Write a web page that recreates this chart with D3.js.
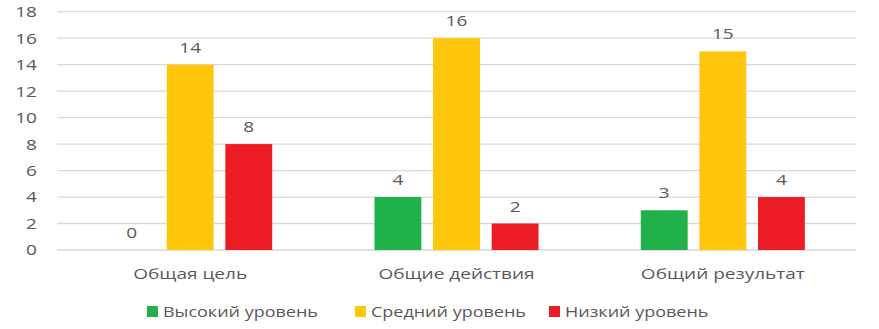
<!DOCTYPE html>
<html>
<head>
<meta charset="utf-8">
<script src="https://cdn.jsdelivr.net/npm/d3@7"></script>
<style>
  html, body { margin: 0; padding: 0; background: #fff; }
  svg text { font-family: "Open Sans", "DejaVu Sans", sans-serif; fill: #595959; }
</style>
</head>
<body>
<svg id="chart" width="879" height="329"></svg>
<script>
const categories = ["Общая цель", "Общие действия", "Общий результат"];
const seriesNames = ["Высокий уровень", "Средний уровень", "Низкий уровень"];
const highValues = [0, 4, 3];
const midValues = [14, 16, 15];
const lowValues = [8, 2, 4];
const seriesColors = ["#21B14B", "#FFC60B", "#EC1C24"];
const yTicks = [0, 2, 4, 6, 8, 10, 12, 14, 16, 18];

const series = [highValues, midValues, lowValues];

const svg = d3.select("#chart");
const plotLeft = 57, plotRight = 856, plotTop = 11.7, plotBottom = 250;
const SX = 1.27; // horizontal stretch of the reference text
const place = (x, yy, s = SX) => `translate(${x},${yy}) scale(${s},1)`;

const y = d3.scaleLinear().domain([0, 18]).range([plotBottom, plotTop]);
const x0 = d3.scaleBand().domain(categories).range([plotLeft, plotRight])
  .paddingInner(0.34).paddingOuter(0.17);
const x1 = d3.scaleBand().domain(seriesNames).range([0, x0.bandwidth()])
  .paddingInner(0.2).paddingOuter(0.1);
const color = d3.scaleOrdinal().domain(seriesNames).range(seriesColors);

// gridlines
svg.append("g").selectAll("line").data(yTicks).join("line")
  .attr("x1", plotLeft).attr("x2", plotRight)
  .attr("y1", d => y(d)).attr("y2", d => y(d))
  .attr("stroke", "#d9d9d9").attr("stroke-width", 1.3);

// y tick labels
svg.append("g").selectAll("text").data(yTicks).join("text")
  .attr("transform", d => place(37, y(d))).attr("dy", "0.36em")
  .attr("text-anchor", "end").attr("font-size", 15)
  .text(d => d);

// bars
const groups = svg.append("g").selectAll("g").data(categories).join("g")
  .attr("transform", c => `translate(${x0(c)},0)`);

groups.each(function(c, ci) {
  const g = d3.select(this);
  const rows = seriesNames.map((s, si) => ({ s, v: series[si][ci] }));
  g.selectAll("rect").data(rows).join("rect")
    .attr("x", d => x1(d.s)).attr("width", x1.bandwidth())
    .attr("y", d => y(d.v)).attr("height", d => y(0) - y(d.v))
    .attr("fill", d => color(d.s));
  g.selectAll("text").data(rows).join("text")
    .attr("transform", d => place(x1(d.s) + x1.bandwidth() / 2, y(d.v) - 12))
    .attr("text-anchor", "middle").attr("font-size", 15)
    .text(d => d.v);
});

// category labels
svg.append("g").selectAll("text").data(categories).join("text")
  .attr("transform", c => place(x0(c) + x0.bandwidth() / 2, 279))
  .attr("text-anchor", "middle").attr("font-size", 15)
  .text(c => c);

// legend
const legendX = [147, 355, 549];
const legend = svg.append("g").selectAll("g").data(seriesNames).join("g")
  .attr("transform", (d, i) => `translate(${legendX[i]},0)`);
legend.append("rect").attr("x", 0).attr("y", 306).attr("width", 11).attr("height", 11)
  .attr("fill", d => color(d));
legend.append("text").attr("transform", place(16, 317, 1.2)).attr("font-size", 15)
  .text(d => d);
</script>
</body>
</html>
